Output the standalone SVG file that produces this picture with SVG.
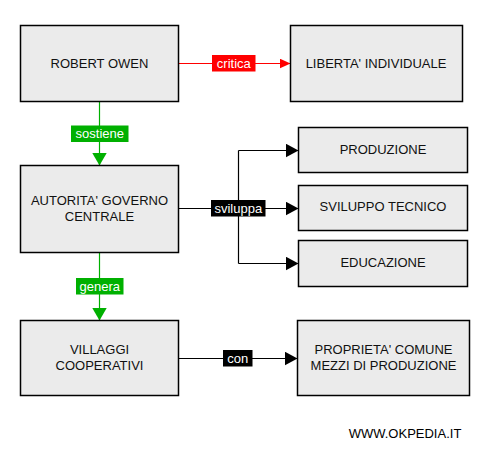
<svg xmlns="http://www.w3.org/2000/svg" width="486" height="458" viewBox="0 0 486 458">
<style>
.box{fill:#ebebeb;stroke:#000;stroke-width:1.5}
.t{font-family:"Liberation Sans",Arial,sans-serif;font-size:13px;fill:#111;text-anchor:middle}
.lt{font-family:"Liberation Sans",Arial,sans-serif;font-size:13px;fill:#fff;text-anchor:middle}
.k{stroke:#000;stroke-width:1.2;fill:none}
.g{stroke:#00b000;stroke-width:1.2;fill:none}
.r{stroke:#ff0000;stroke-width:1.2;fill:none}
</style>
<defs>
<marker id="ak" markerUnits="userSpaceOnUse" markerWidth="13" markerHeight="14" refX="13" refY="7" orient="auto"><path d="M0,0 L13,7 L0,14 z" fill="#000"/></marker>
<marker id="ag" markerUnits="userSpaceOnUse" markerWidth="13" markerHeight="15" refX="13" refY="7.5" orient="auto"><path d="M0,0 L13,7.5 L0,15 z" fill="#00b000"/></marker>
<marker id="ar" markerUnits="userSpaceOnUse" markerWidth="11" markerHeight="10" refX="11" refY="5" orient="auto"><path d="M0,0 L11,5 L0,10 z" fill="#ff0000"/></marker>
</defs>
<rect width="486" height="458" fill="#fff"/>
<g id="connectors">
<line class="r" x1="178.5" y1="63.5" x2="290.5" y2="63.5" marker-end="url(#ar)"/>
<line class="g" x1="99.5" y1="101.5" x2="99.5" y2="165.5" marker-end="url(#ag)"/>
<line class="k" x1="178.5" y1="208.5" x2="238.5" y2="208.5"/>
<path class="k" d="M238.5,150.5 L238.5,263.5"/>
<line class="k" x1="238.5" y1="150.5" x2="298.5" y2="150.5" marker-end="url(#ak)"/>
<line class="k" x1="238.5" y1="208.5" x2="298.5" y2="208.5" marker-end="url(#ak)"/>
<line class="k" x1="238.5" y1="263.5" x2="298.5" y2="263.5" marker-end="url(#ak)"/>
<line class="g" x1="99.5" y1="252.5" x2="99.5" y2="320.5" marker-end="url(#ag)"/>
<line class="k" x1="178.5" y1="358.5" x2="297.5" y2="358.5" marker-end="url(#ak)"/>
<rect x="212" y="55" width="43.5" height="16.5" fill="#ff0000"/>
<text class="lt" x="233.8" y="67.7">critica</text>
<rect x="71" y="125.5" width="57.5" height="16.5" fill="#00b000"/>
<text class="lt" x="99.8" y="138.3">sostiene</text>
<rect x="211" y="200" width="54.5" height="16.5" fill="#000"/>
<text class="lt" x="238.3" y="212.8">sviluppa</text>
<rect x="76" y="278" width="47.5" height="16.5" fill="#00b000"/>
<text class="lt" x="99.8" y="290.7">genera</text>
<rect x="223" y="350" width="29.5" height="16.5" fill="#000"/>
<text class="lt" x="237.8" y="362.8">con</text>
</g>
<g id="robert-owen"><rect class="box" x="20.5" y="25.5" width="158" height="76"/><text class="t" x="99.5" y="67.7">ROBERT OWEN</text></g>
<g id="liberta"><rect class="box" x="290.5" y="25.5" width="172" height="76"/><text class="t" x="376" y="67.7">LIBERTA' INDIVIDUALE</text></g>
<g id="autorita"><rect class="box" x="20.5" y="165.5" width="158" height="87"/><text class="t" x="99.5" y="204.6">AUTORITA' GOVERNO</text><text class="t" x="99.5" y="220.6">CENTRALE</text></g>
<g id="produzione"><rect class="box" x="298.5" y="127.5" width="169" height="45"/><text class="t" x="383" y="153.6">PRODUZIONE</text></g>
<g id="sviluppo"><rect class="box" x="298.5" y="185.5" width="169" height="45"/><text class="t" x="383" y="211.3">SVILUPPO TECNICO</text></g>
<g id="educazione"><rect class="box" x="298.5" y="240.5" width="169" height="46"/><text class="t" x="383" y="267.3">EDUCAZIONE</text></g>
<g id="villaggi"><rect class="box" x="20.5" y="320.5" width="158" height="75"/><text class="t" x="99.5" y="353.9">VILLAGGI</text><text class="t" x="99.5" y="369.9">COOPERATIVI</text></g>
<g id="proprieta"><rect class="box" x="297.5" y="320.5" width="172" height="75"/><text class="t" x="383.5" y="353.9">PROPRIETA' COMUNE</text><text class="t" x="383.5" y="369.9">MEZZI DI PRODUZIONE</text></g>
<text class="t" x="405" y="437.5" style="fill:#000">WWW.OKPEDIA.IT</text>
</svg>
